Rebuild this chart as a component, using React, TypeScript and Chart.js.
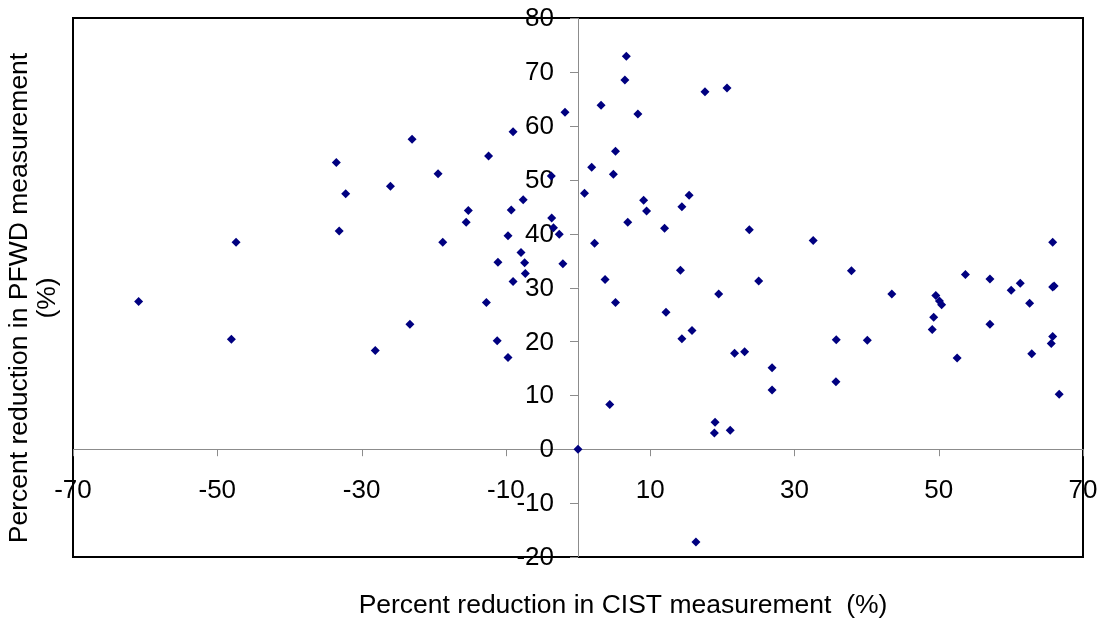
import React, { useEffect, useRef } from "react";
import { Chart, registerables } from "chart.js";

Chart.register(...registerables);

const xValues = [
  -60.9, -48.05, -47.4, -33.5, -33.1, -32.2, -28.1, -26.0, -23.0, -23.3,
  -19.4, -18.75, -15.2, -15.5, -12.4, -12.7, -11.1, -11.2, -9.0, -9.25,
  -9.7, -9.0, -9.7, -7.6, -7.9, -7.4, -7.3, -3.7, -3.65, -3.4,
  -2.6, -2.1, -1.8, 0, 0.9, 1.9, 2.3, 3.2, 3.75, 4.4,
  4.9, 5.2, 5.2, 6.7, 6.5, 6.9, 8.3, 9.1, 9.5, 12.0,
  12.2, 14.4, 14.2, 14.4, 15.4, 15.8, 16.35, 17.6, 19.5, 19.0,
  18.9, 20.65, 21.1, 21.7, 23.1, 23.75, 25.05, 26.9, 26.9, 32.6,
  35.8, 35.75, 37.9, 40.1, 43.5, 49.6, 50.1, 50.4, 49.3, 49.1,
  52.55, 53.7, 57.1, 57.1, 60.05, 61.3, 62.6, 62.9, 65.8, 65.8,
  66.0, 65.8, 65.6, 66.7,
];

const yValues = [
  27.4, 20.4, 38.4, 53.2, 40.5, 47.4, 18.3, 48.8, 57.5, 23.2,
  51.1, 38.4, 44.3, 42.1, 54.4, 27.2, 34.7, 20.1, 58.9, 44.4,
  39.6, 31.1, 17.0, 46.3, 36.5, 34.6, 32.6, 50.7, 42.9, 41.1,
  39.9, 34.4, 62.5, 0, 47.5, 52.3, 38.2, 63.8, 31.5, 8.3,
  51.0, 55.3, 27.2, 72.9, 68.5, 42.1, 62.2, 46.2, 44.2, 41.0,
  25.4, 45.0, 33.2, 20.5, 47.1, 22.0, -17.2, 66.3, 28.8, 5.0,
  3.0, 67.0, 3.5, 17.8, 18.1, 40.7, 31.2, 15.1, 11.0, 38.7,
  20.3, 12.5, 33.1, 20.2, 28.8, 28.5, 27.5, 26.8, 24.5, 22.2,
  16.9, 32.4, 31.6, 23.2, 29.5, 30.8, 27.1, 17.7, 38.4, 30.1,
  30.3, 20.9, 19.6, 10.2,
];

const xTicks = [-70, -50, -30, -10, 10, 30, 50, 70];
const yTicks = [-20, -10, 0, 10, 20, 30, 40, 50, 60, 70, 80];

const xTitle = "Percent reduction in CIST measurement  (%)";
const yTitleLines = ["Percent reduction in PFWD measurement", "(%)"];

const FONT = '"Liberation Sans", Arial, sans-serif';

const axesPlugin = {
  id: "excelAxes",
  beforeDatasetsDraw(chart: any) {
    const { ctx, chartArea } = chart;
    const xs = chart.scales.x;
    const ys = chart.scales.y;
    const x0 = xs.getPixelForValue(0);
    const y0 = ys.getPixelForValue(0);
    ctx.save();
    // box
    ctx.strokeStyle = "#000";
    ctx.lineWidth = 2;
    ctx.strokeRect(chartArea.left, chartArea.top, chartArea.right - chartArea.left, chartArea.bottom - chartArea.top);
    // axes
    ctx.strokeStyle = "#8c8c8c";
    ctx.lineWidth = 1;
    ctx.beginPath();
    ctx.moveTo(chartArea.left, Math.round(y0) + 0.5);
    ctx.lineTo(chartArea.right, Math.round(y0) + 0.5);
    ctx.moveTo(Math.round(x0) + 0.5, chartArea.top);
    ctx.lineTo(Math.round(x0) + 0.5, chartArea.bottom);
    xTicks.forEach((t) => {
      const px = Math.round(xs.getPixelForValue(t)) + 0.5;
      ctx.moveTo(px, y0);
      ctx.lineTo(px, y0 + 7);
    });
    yTicks.forEach((t) => {
      const py = Math.round(ys.getPixelForValue(t)) + 0.5;
      ctx.moveTo(x0 - 8, py);
      ctx.lineTo(x0, py);
    });
    ctx.stroke();
    // tick labels
    ctx.fillStyle = "#000";
    ctx.font = `26px ${FONT}`;
    ctx.textBaseline = "middle";
    ctx.textAlign = "center";
    xTicks.forEach((t) => {
      ctx.fillText(String(t), xs.getPixelForValue(t), y0 + 42);
    });
    ctx.textAlign = "right";
    yTicks.forEach((t) => {
      ctx.fillText(String(t), x0 - 24, ys.getPixelForValue(t) + 1);
    });
    // titles
    ctx.font = `26.5px ${FONT}`;
    ctx.textAlign = "center";
    ctx.fillText(xTitle, 623, 606);
    ctx.save();
    ctx.translate(20, 298);
    ctx.rotate(-Math.PI / 2);
    ctx.fillText(yTitleLines[0], 0, 0);
    ctx.fillText(yTitleLines[1], 0, 28);
    ctx.restore();
    ctx.restore();
  },
};

export default function App() {
  const ref = useRef<HTMLCanvasElement | null>(null);
  useEffect(() => {
    if (!ref.current) return;
    const data = xValues.map((x, i) => ({ x, y: yValues[i] }));
    const chart = new Chart(ref.current, {
      type: "scatter",
      data: {
        datasets: [
          {
            data,
            pointStyle: "rectRot",
            pointRadius: 4.5,
            pointBackgroundColor: "#000080",
            pointBorderColor: "#000080",
            pointBorderWidth: 0,
          },
        ],
      },
      options: {
        responsive: false,
        animation: false,
        devicePixelRatio: 1,
        layout: { padding: { left: 73, top: 18, right: 21, bottom: 70 } },
        plugins: { legend: { display: false }, tooltip: { enabled: false } },
        scales: {
          x: { type: "linear", min: -70, max: 70, display: false },
          y: { type: "linear", min: -20, max: 80, display: false },
        },
      },
      plugins: [axesPlugin],
    });
    return () => chart.destroy();
  }, []);
  return (
    <div style={{ position: "absolute", left: 0, top: 0, width: 1104, height: 627, background: "#fff" }}>
      <canvas ref={ref} width={1104} height={627} />
    </div>
  );
}
